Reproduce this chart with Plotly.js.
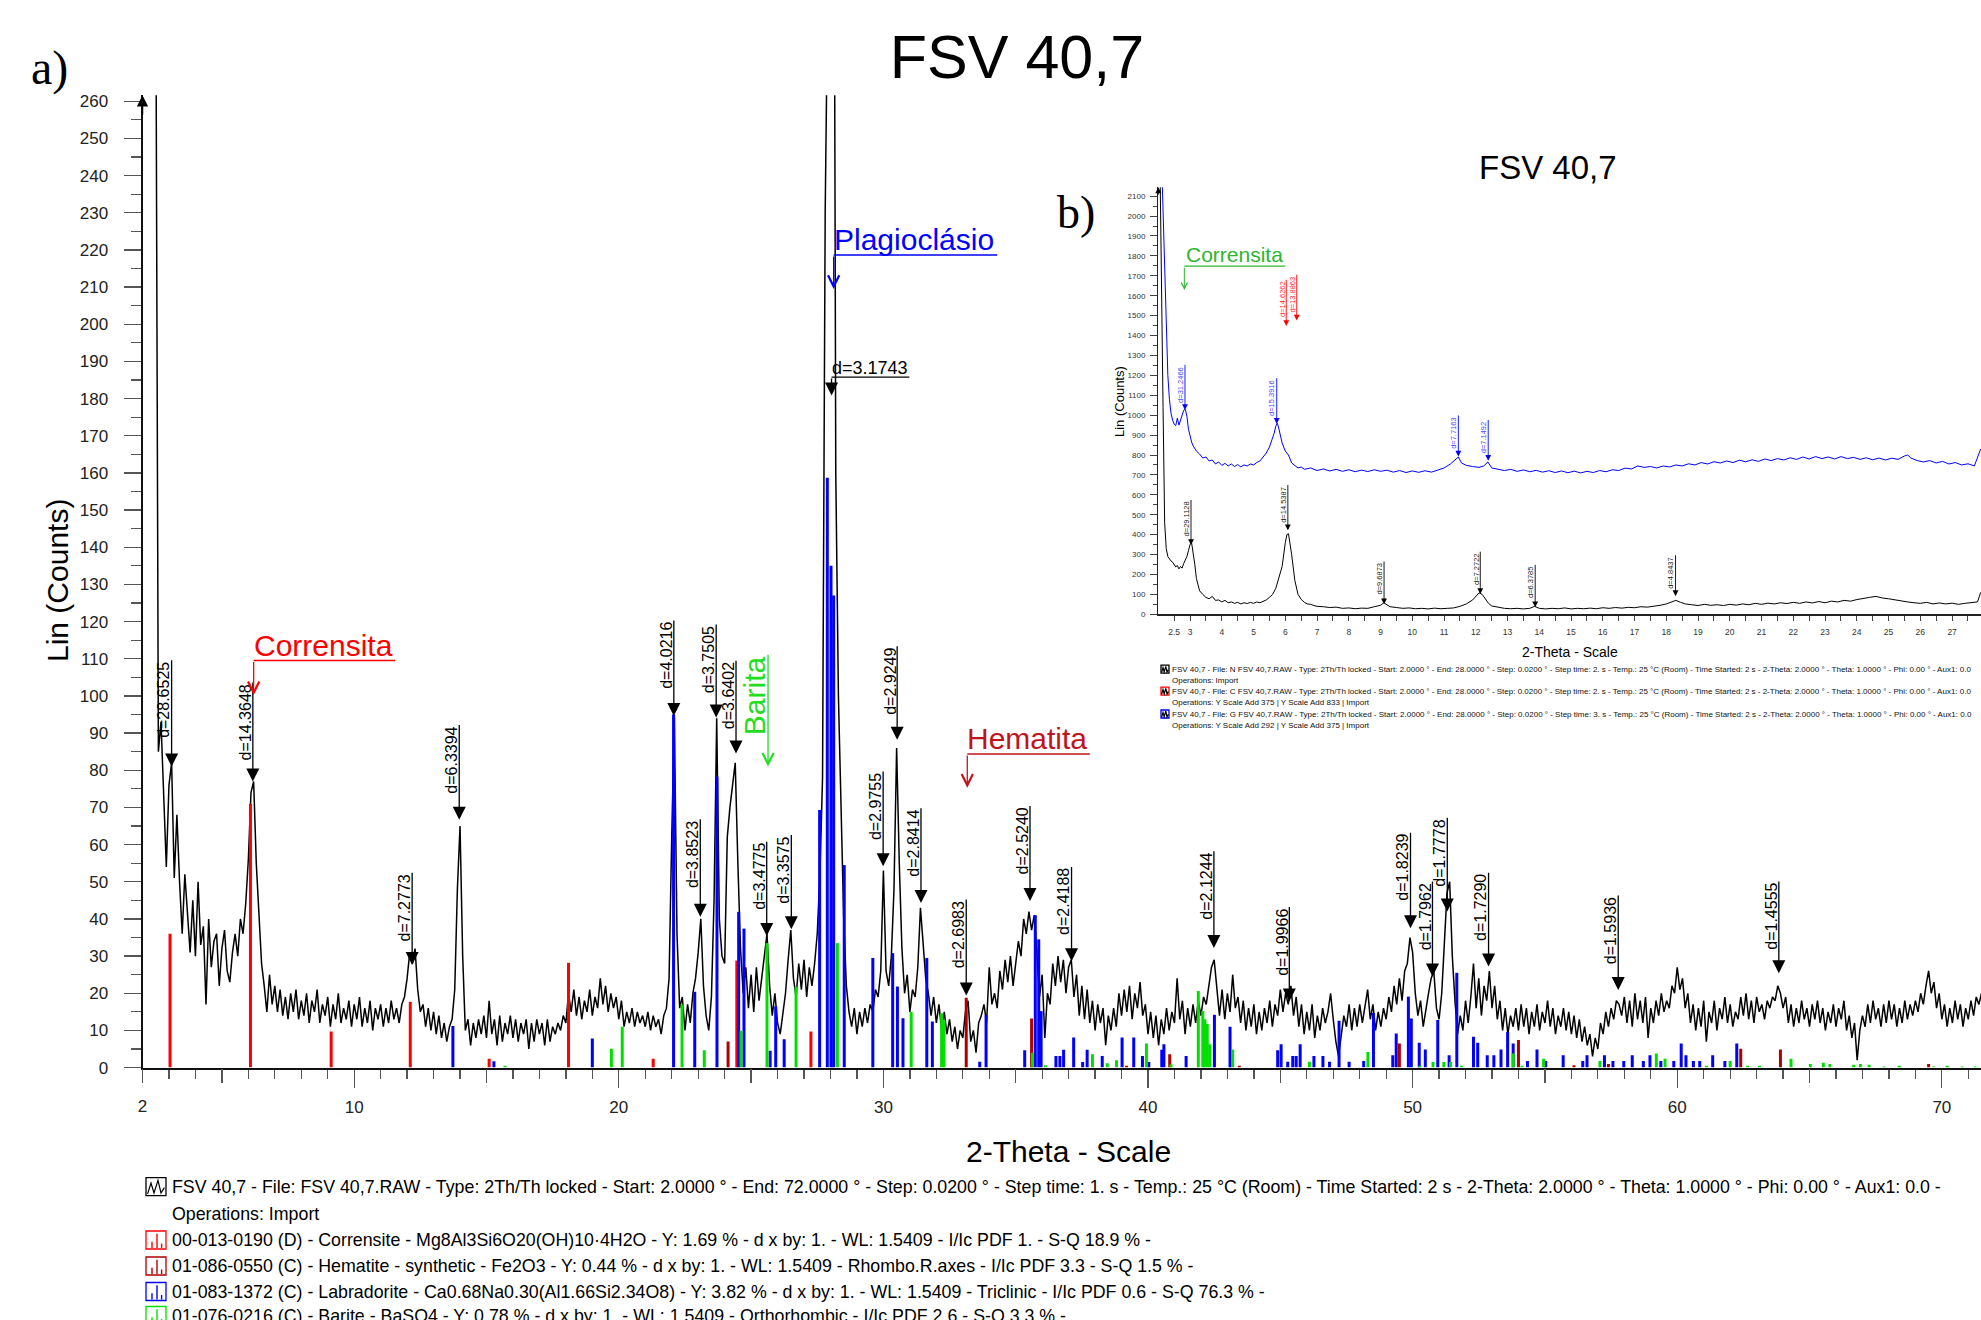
<!DOCTYPE html>
<html><head><meta charset="utf-8">
<script src="https://cdn.plot.ly/plotly-3.0.1.min.js"></script>
<style>html,body{margin:0;padding:0;background:#fff}#chart{width:1981px;height:1320px}</style>
</head><body><div id="chart"></div>
<script>
// ---------------- DATA ----------------
// main diffractogram, scan grid 2.0 .. 71.5 deg 2-theta, 0.1 deg apart
const scanStart = 2.0;
const scanStep = 0.1;
const countsMain = [
420,420,420,420,420,300,85,93,72,54,
76,82,51,68,50,36,52,40,31,45,
30,50,33,38,17,40,27,34,36,22,
32,37,26,23,31,36,30,40,36,44,
56,74,77,55,40,28,22,15,25,17,
22,15,21,14,19,13,20,15,21,13,
18,14,20,12,18,15,21,12,17,14,
19,11,17,13,20,12,16,13,18,11,
17,13,19,11,16,12,18,10,16,13,
17,11,16,12,18,13,16,12,17,19,
24,31,28,32,21,15,17,11,16,10,
15,9,14,8,12,7,11,13,21,48,
65,30,10,13,6,12,8,13,9,14,
8,18,9,13,6,14,7,12,9,14,
8,13,7,12,9,13,5,12,7,13,
9,12,6,13,7,11,9,12,10,14,
12,20,15,21,14,19,13,18,15,21,
14,19,16,24,17,22,15,20,16,19,
13,18,11,15,12,16,11,15,12,14,
11,15,10,14,11,13,9,14,16,24,
62,94,36,16,19,10,17,12,20,24,
31,40,22,14,10,19,45,94,40,30,
28,62,70,76,82,55,32,20,27,16,
25,15,27,18,24,30,36,22,14,20,
12,9,15,20,29,37,24,19,28,21,
29,19,27,22,28,36,52,78,230,420,
380,420,160,100,70,40,22,15,11,16,
9,15,11,16,12,17,15,21,19,26,
53,26,22,30,48,86,55,32,20,25,
15,21,19,27,43,32,24,20,14,19,
12,17,10,15,9,13,7,11,5,10,
8,15,18,7,10,4,12,14,17,12,
27,17,20,16,26,21,29,23,30,22,
28,34,30,40,36,42,37,41,31,19,
25,8,20,17,28,22,30,23,29,20,
27,29,19,25,14,22,13,21,12,18,
10,17,12,16,6,14,10,16,11,20,
14,21,15,22,13,20,16,23,14,17,
9,15,8,14,6,13,9,16,10,15,
12,24,13,18,9,16,11,17,12,18,
14,19,17,22,27,29,22,14,21,13,
20,15,25,16,19,12,18,10,16,11,
17,9,15,10,16,12,18,11,17,14,
21,15,20,17,22,14,19,11,17,9,
15,10,17,8,14,10,16,12,15,20,
13,7,3,9,14,11,17,10,16,11,
17,12,16,21,13,17,10,15,11,16,
13,19,15,22,17,24,18,26,28,35,
31,20,14,18,11,16,20,24,26,16,
13,20,32,47,50,30,18,9,14,10,
18,12,19,28,16,24,14,22,18,26,
16,22,13,18,10,16,9,14,11,16,
10,17,11,16,9,15,11,17,10,15,
12,18,11,16,9,14,11,16,10,15,
9,14,8,13,7,11,6,9,3,8,
5,12,9,15,11,16,13,18,17,14,
19,12,18,11,20,13,18,12,19,8,
16,12,18,14,20,15,18,16,22,20,
27,21,24,16,20,12,17,10,16,11,
18,7,15,12,18,10,16,13,19,12,
17,11,15,13,19,14,20,13,18,12,
19,15,17,13,18,16,19,18,22,20,
16,19,12,17,11,16,12,18,13,16,
11,17,13,18,12,16,10,15,12,17,
11,16,13,18,10,14,8,12,2,10,
14,11,17,12,18,13,16,11,17,12,
18,13,17,11,16,12,18,13,17,14,
18,15,20,17,22,26,20,23,16,20,
13,17,11,16,12,18,13,17,11,16,
13,18,14,19,17,20
];

// reference patterns (stick positions 2-theta and heights in counts)
const corrensiteTheta = [3.04, 6.08, 9.13, 12.12, 15.1, 18.1, 21.3, 24.46, 27.26];
const corrensiteI     = [36, 71, 9.7, 17.7, 2.4, 28.2, 2.4, 28.8, 9.7];

const hematiteTheta = [24.13, 33.13, 35.6, 39.19, 40.82, 43.45, 49.5, 54.0, 56.1, 57.4, 62.4, 63.9, 69.5];
const hematiteI     = [7, 18.8, 13.2, 0.5, 3.6, 0.5, 6.5, 7.4, 0.6, 1.0, 5.1, 4.9, 1.0];

const labradoriteTheta = [13.73, 15.28, 19.0, 22.07, 22.87, 23.71, 24.53, 24.73, 25.72, 25.93, 26.25, 27.59, 27.88, 28.02, 28.12, 28.52,
  29.6, 30.35, 30.53, 30.74, 31.64, 31.85, 33.64, 33.88, 35.34, 35.74, 35.87, 35.96, 36.52, 36.67, 36.81, 37.19, 37.53, 37.7,
  38.27, 39.02, 39.46, 39.79, 40.03, 40.52, 40.6, 41.44, 42.51, 43.1, 44.9, 45.03, 45.28, 45.47, 45.6, 45.75, 46.27, 46.61,
  46.86, 47.22, 47.6, 48.15, 48.52, 49.25, 49.38, 49.84, 49.95, 50.25, 50.48, 50.95, 51.38, 51.67, 52.3, 52.46, 52.82, 53.07,
  53.34, 53.59, 53.8, 54.34, 54.7, 55.03, 55.69, 56.43, 56.59, 57.25, 57.57, 57.98, 58.3, 58.72, 58.97, 59.38, 59.87, 60.15,
  60.33, 60.61, 60.85, 61.34, 61.8, 62.25];
const labradoriteI = [11.2, 1.7, 7.8, 95, 20.4, 78.3, 41.9, 37.4, 4.5, 16.5, 7.6, 69.3, 158.7, 135, 127, 54.5,
  29.5, 30.8, 21.8, 13.3, 29.5, 12.4, 1.6, 14.1, 4.7, 41, 34.5, 15.2, 3.1, 3.1, 4.8, 8.1, 1.5, 4.8,
  3.1, 8.1, 8.1, 3.1, 1.5, 4.8, 6.3, 3.1, 14.2, 11, 4.7, 6.3, 1.6, 3.1, 3.1, 6.3, 3.1, 3.1,
  1.6, 12.6, 1.6, 1.8, 14.7, 3.3, 9.2, 19.1, 13.2, 6.7, 4.9, 12.8, 3.3, 25.5, 8.3, 6.7, 3.3, 3.3,
  4.9, 9.6, 6.5, 1.8, 4.9, 1.8, 3.3, 1.8, 3.3, 3.3, 1.8, 1.8, 3.3, 1.8, 3.3, 1.8, 1.8, 6.5,
  3.3, 1.8, 1.8, 3.3, 1.8, 6.5];

const bariteTheta = [15.7, 19.72, 20.13, 22.39, 23.23, 24.62, 25.6, 26.7, 28.26, 31.05, 32.2, 32.29, 35.63, 36.12, 37.9, 38.46,
  38.81, 39.94, 40.87, 41.9, 42.07, 42.15, 42.24, 42.33, 43.2, 46.1, 48.31, 50.28, 50.77, 51.18, 51.43, 51.84, 53.8, 54.13,
  54.95, 57.08, 59.21, 59.54, 61.1, 62.0, 62.66, 63.11, 64.3, 65.03, 65.52, 65.77, 66.67, 66.92, 67.25, 67.82, 68.39, 69.7,
  70.2, 70.77, 71.26];
const bariteI = [0.5, 5.1, 11.0, 17, 4.7, 9.9, 33.5, 21.8, 33.5, 15, 14.6, 12.8, 4.0, 0.6, 3.6, 1.2,
  2.0, 6.5, 0.9, 20.6, 15.2, 13, 11.7, 6.3, 4.9, 1.6, 4.2, 0.5, 1.5, 1.5, 1.5, 0.5, 3.8, 0.5,
  2.4, 1.8, 3.8, 2.4, 0.5, 1.8, 0.5, 0.5, 2.4, 1.0, 1.3, 1.0, 0.8, 1.0, 0.8, 0.3, 0.5, 0.3,
  0.5, 0.3, 0.3];

// peak labels of the main chart: text, 2-theta, arrow tip and label top (counts)
const dLabelMain = ['d=28.6525','d=14.3648','d=7.2773','d=6.3394','d=4.0216','d=3.8523','d=3.7505','d=3.6402','d=3.4775','d=3.3575',
  'd=2.9755','d=2.9249','d=2.8414','d=2.6983','d=2.5240','d=2.4188','d=2.1244','d=1.9966','d=1.8239','d=1.7962','d=1.7778',
  'd=1.7290','d=1.5936','d=1.4555'];
const dThetaMain = [3.10, 6.17, 12.19, 13.97, 22.08, 23.08, 23.68, 24.43, 25.59, 26.52, 29.99, 30.52, 31.42, 33.13, 35.54, 37.11,
  42.49, 45.34, 49.92, 50.75, 51.31, 52.87, 57.77, 63.84];
const dTipMain = [81, 77, 27.6, 66.7, 94.6, 40.6, 94.2, 84.5, 35.4, 37.2, 54.2, 88.2, 44.3, 19.4, 44.8, 28.6, 32.2, 17.8, 37.5, 24.5,
  42.0, 27.2, 20.9, 25.4];
const dTopMain = [110, 104, 52.8, 92.6, 120.7, 67.2, 119.6, 109.9, 61.2, 63, 80.1, 113.8, 70.2, 45.6, 70.8, 54.4, 58.6, 43.6, 63.6,
  50.5, 67.6, 52.8, 46.7, 50.5];
// strongest peak (labelled horizontally)
const dStrong = {text: 'd=3.1743', theta: 28.04, tip: 180.8, top: 185.8};

// inset b): natural (black) and glycolated (blue) scans
const insetNTheta = [2.05,2.1,2.15,2.2,2.25,2.3,2.35,2.4,2.45,2.5,2.55,2.6,2.65,2.7,2.75,2.8,2.85,2.9,2.95,3.0,3.05,3.1,3.15,3.2,3.25,
  3.3,3.4,3.5,3.6,3.7,3.8,3.9,4.0,4.1,4.2,4.3,4.4,4.5,4.6,4.7,4.8,4.9,5.0,5.1,5.2,5.3,5.4,5.5,5.6,5.7,5.8,5.9,6.0,6.05,6.1,
  6.15,6.2,6.3,6.4,6.5,6.6,6.7,6.8,6.9,7.0,7.2,7.4,7.6,7.8,8.0,8.2,8.4,8.6,8.8,9.0,9.1,9.2,9.3,9.5,9.7,9.9,10.1,10.3,10.5,
  10.7,10.9,11.1,11.3,11.5,11.7,11.9,12.0,12.1,12.2,12.3,12.4,12.5,12.7,12.9,13.1,13.3,13.5,13.7,13.85,14.0,14.2,14.4,14.6,
  14.8,15.0,15.2,15.4,15.6,15.8,16.0,16.2,16.4,16.6,16.8,17.0,17.2,17.4,17.6,17.8,18.0,18.15,18.3,18.45,18.6,18.8,19.0,19.2,
  19.4,19.6,19.8,20.0,20.2,20.4,20.6,20.8,21.0,21.2,21.4,21.6,21.8,22.0,22.2,22.4,22.6,22.8,23.0,23.2,23.4,23.6,23.8,24.0,
  24.2,24.4,24.6,24.8,25.0,25.2,25.4,25.6,25.8,26.0,26.2,26.4,26.6,26.8,27.0,27.2,27.4,27.6,27.8,27.9];
const insetNCounts = [2300,1500,1040,460,330,290,275,268,262,250,238,245,228,240,232,255,270,290,320,350,358,310,250,180,140,
  118,100,85,78,90,70,72,62,70,58,62,55,60,52,58,54,60,55,62,58,66,72,85,100,130,180,240,360,400,405,
  360,300,170,100,75,60,52,50,44,40,38,34,36,30,32,28,31,30,38,45,58,48,38,34,30,32,28,30,27,
  31,28,30,32,40,52,72,92,108,100,75,55,42,35,30,28,30,27,30,40,30,27,30,28,
  32,27,30,28,31,28,33,30,34,31,35,33,38,36,40,45,52,62,70,60,52,48,44,50,
  45,48,44,50,46,52,48,55,50,56,52,58,54,60,55,62,57,64,58,66,62,70,66,74,
  78,85,90,82,78,72,68,62,58,55,60,52,57,52,56,50,55,58,62,110];

const insetGTheta = [2.1,2.2,2.3,2.35,2.4,2.45,2.5,2.55,2.6,2.65,2.7,2.75,2.8,2.85,2.9,2.95,3.0,3.05,3.1,3.2,3.3,3.4,3.5,3.6,3.7,
  3.8,3.9,4.0,4.1,4.2,4.3,4.4,4.5,4.6,4.7,4.8,4.9,5.0,5.1,5.2,5.3,5.4,5.5,5.6,5.65,5.7,5.75,5.8,5.85,5.9,6.0,6.05,6.1,6.2,
  6.3,6.4,6.5,6.6,6.8,7.0,7.2,7.4,7.6,7.8,8.0,8.2,8.4,8.6,8.8,9.0,9.2,9.4,9.6,9.8,10.0,10.2,10.4,10.6,10.8,11.0,11.2,11.35,
  11.45,11.55,11.7,11.9,12.1,12.25,12.38,12.5,12.7,12.9,13.1,13.3,13.5,13.7,13.9,14.1,14.3,14.5,14.7,14.9,15.1,15.3,15.5,
  15.7,15.9,16.1,16.3,16.5,16.7,16.9,17.1,17.3,17.5,17.7,17.9,18.1,18.3,18.5,18.7,18.9,19.1,19.3,19.5,19.7,19.9,20.1,20.3,
  20.5,20.7,20.9,21.1,21.3,21.5,21.7,21.9,22.1,22.3,22.5,22.7,22.9,23.1,23.3,23.5,23.7,23.9,24.1,24.3,24.5,24.7,24.9,25.1,
  25.3,25.5,25.6,25.7,25.9,26.1,26.3,26.5,26.7,26.9,27.1,27.3,27.5,27.7,27.8,27.9];
const insetGCounts = [2300,1700,1200,1080,1010,975,955,948,985,950,975,995,1025,1030,995,930,890,865,845,820,805,785,790,770,775,
  755,765,748,758,745,755,742,752,740,750,745,755,750,762,770,790,810,840,880,910,945,960,930,895,860,820,810,800,760,
  745,735,740,728,735,722,730,720,728,718,726,716,724,717,726,718,724,714,722,712,720,713,721,714,724,735,755,775,
  790,760,748,742,738,745,765,735,728,722,728,718,725,716,723,714,721,712,720,711,719,710,718,
  712,722,716,726,722,734,730,745,738,742,735,745,740,750,745,756,750,762,755,766,760,770,762,774,
  766,776,768,780,772,782,775,786,778,790,780,792,782,790,780,792,782,788,778,786,776,785,775,784,
  778,795,800,785,772,765,772,760,768,755,762,750,756,745,790,830];

// inset peak labels: text, 2-theta, arrow tip, label top (counts)
const dLabelInsetN = ['d=29.1128','d=14.5387','d=9.6873','d=7.2722','d=6.3785','d=4.8437'];
const dThetaInsetN = [3.03, 6.08, 9.11, 12.14, 13.87, 18.29];
const dTipInsetN   = [348, 422, 50, 102, 35, 91];
const dTopInsetN   = [582, 657, 273, 322, 256, 304];
const dLabelInsetG = ['d=31.2466','d=15.3916','d=7.7163','d=7.1492'];
const dThetaInsetG = [2.84, 5.73, 11.45, 12.39];
const dTipInsetG   = [1026, 956, 792, 771];
const dTopInsetG   = [1260, 1193, 1006, 983];
const dLabelInsetC = ['d=14.6262','d=13.8863'];
const dThetaInsetC = [6.03, 6.36];
const dTipInsetC   = [1448, 1475];
const dTopInsetC   = [1688, 1713];

const insetXLabels = ['2.5','3','4','5','6','7','8','9','10','11','12','13','14','15','16','17','18','19','20','21','22','23','24','25','26','27'];

const legendMain = [
  'FSV 40,7 - File: FSV 40,7.RAW - Type: 2Th/Th locked - Start: 2.0000 ° - End: 72.0000 ° - Step: 0.0200 ° - Step time: 1. s - Temp.: 25 °C (Room) - Time Started: 2 s - 2-Theta: 2.0000 ° - Theta: 1.0000 ° - Phi: 0.00 ° - Aux1: 0.0 -',
  'Operations: Import',
  '00-013-0190 (D) - Corrensite - Mg8Al3Si6O20(OH)10·4H2O - Y: 1.69 % - d x by: 1. - WL: 1.5409 - I/Ic PDF 1. - S-Q 18.9 % -',
  '01-086-0550 (C) - Hematite - synthetic - Fe2O3 - Y: 0.44 % - d x by: 1. - WL: 1.5409 - Rhombo.R.axes - I/Ic PDF 3.3 - S-Q 1.5 % -',
  '01-083-1372 (C) - Labradorite - Ca0.68Na0.30(Al1.66Si2.34O8) - Y: 3.82 % - d x by: 1. - WL: 1.5409 - Triclinic - I/Ic PDF 0.6 - S-Q 76.3 % -',
  '01-076-0216 (C) - Barite - BaSO4 - Y: 0.78 % - d x by: 1. - WL: 1.5409 - Orthorhombic - I/Ic PDF 2.6 - S-Q 3.3 % -'
];
const legendInset = [
  'FSV 40,7 - File: N FSV 40,7.RAW - Type: 2Th/Th locked - Start: 2.0000 ° - End: 28.0000 ° - Step: 0.0200 ° - Step time: 2. s - Temp.: 25 °C (Room) - Time Started: 2 s - 2-Theta: 2.0000 ° - Theta: 1.0000 ° - Phi: 0.00 ° - Aux1: 0.0',
  'Operations: Import',
  'FSV 40,7 - File: C FSV 40,7.RAW - Type: 2Th/Th locked - Start: 2.0000 ° - End: 28.0000 ° - Step: 0.0200 ° - Step time: 2. s - Temp.: 25 °C (Room) - Time Started: 2 s - 2-Theta: 2.0000 ° - Theta: 1.0000 ° - Phi: 0.00 ° - Aux1: 0.0',
  'Operations: Y Scale Add 375 | Y Scale Add 833 | Import',
  'FSV 40,7 - File: G FSV 40,7.RAW - Type: 2Th/Th locked - Start: 2.0000 ° - End: 28.0000 ° - Step: 0.0200 ° - Step time: 3. s - Temp.: 25 °C (Room) - Time Started: 2 s - 2-Theta: 2.0000 ° - Theta: 1.0000 ° - Phi: 0.00 ° - Aux1: 0.0',
  'Operations: Y Scale Add 292 | Y Scale Add 375 | Import'
];

// ---------------- DRAWING ----------------
const W = 1981, H = 1320;
const px = v => v / W;
const py = v => 1 - v / H;
const FONT = 'Liberation Sans, Arial, Helvetica, sans-serif';
const SERIF = 'Liberation Serif, Times New Roman, serif';

const thetaMain = countsMain.map((_, i) => +(scanStart + i * scanStep).toFixed(2));

function sticks(theta, inten) {
  const x = [], y = [];
  theta.forEach((t, i) => { x.push(t, t, null); y.push(0, inten[i], null); });
  return {x, y};
}
function stickTrace(theta, inten, color) {
  const s = sticks(theta, inten);
  return {type: 'scatter', mode: 'lines', x: s.x, y: s.y, xaxis: 'x', yaxis: 'y',
    line: {color: color, width: 3}, hoverinfo: 'skip', connectgaps: false};
}

const traces = [
  {type: 'scatter', mode: 'lines', x: thetaMain, y: countsMain, xaxis: 'x', yaxis: 'y',
   line: {color: '#000', width: 1.5}, hoverinfo: 'skip'},
  stickTrace(corrensiteTheta, corrensiteI, '#ff0000'),
  stickTrace(hematiteTheta, hematiteI, '#b00000'),
  stickTrace(labradoriteTheta, labradoriteI, '#0000ff'),
  stickTrace(bariteTheta, bariteI, '#00e000'),
  {type: 'scatter', mode: 'markers', x: [2], y: [0], xaxis: 'x2', yaxis: 'y',
   marker: {opacity: 0}, hoverinfo: 'skip'},
  {type: 'scatter', mode: 'lines', x: insetNTheta, y: insetNCounts, xaxis: 'x3', yaxis: 'y3',
   line: {color: '#000', width: 1}, hoverinfo: 'skip'},
  {type: 'scatter', mode: 'lines', x: insetGTheta, y: insetGCounts, xaxis: 'x3', yaxis: 'y3',
   line: {color: '#0000ff', width: 1}, hoverinfo: 'skip'}
];

const ann = [];
const shapes = [];

function arrow(xr, yr, x, tip, top, color, w, size, head) {
  ann.push({xref: xr, yref: yr, axref: xr, ayref: yr, x: x, y: tip, ax: x, ay: top, text: '',
    showarrow: true, arrowhead: head, arrowsize: size, arrowwidth: w, arrowcolor: color, standoff: 0, startstandoff: 0});
}
function vtext(xr, yr, x, top, text, size, color, xs) {
  ann.push({xref: xr, yref: yr, x: x, y: top, text: text, showarrow: false, textangle: -90,
    xanchor: 'right', yanchor: 'top', xshift: xs, yshift: -1, font: {family: FONT, size: size, color: color}});
}
function hline(xr, yr, x0, x1, y, color, w) {
  shapes.push({type: 'line', xref: xr, yref: yr, x0: x0, x1: x1, y0: y, y1: y, line: {color: color, width: w}});
}

// main peak labels
dLabelMain.forEach((t, i) => {
  arrow('x', 'y', dThetaMain[i], dTipMain[i], dTopMain[i], '#000', 1.3, 2, 2);
  vtext('x', 'y', dThetaMain[i], dTopMain[i], t, 16, '#000', 3);
});
arrow('x', 'y', dStrong.theta, dStrong.tip, dStrong.top, '#000', 1.3, 2, 2);
ann.push({xref: 'x', yref: 'y', x: dStrong.theta, y: dStrong.top, text: dStrong.text, showarrow: false,
  xanchor: 'left', yanchor: 'bottom', xshift: -2, yshift: -3, font: {family: FONT, size: 18, color: '#000'}});
hline('x', 'y', dStrong.theta, 30.98, dStrong.top, '#000', 1.3);

// phase call-outs on the main chart
function callout(text, color, x, yLine, xEnd, yTip) {
  ann.push({xref: 'x', yref: 'y', x: x, y: yLine, text: text, showarrow: false, xanchor: 'left', yanchor: 'bottom',
    xshift: -2, yshift: -3, font: {family: FONT, size: 30, color: color}});
  hline('x', 'y', x, xEnd, yLine, color, 1.5);
  arrow('x', 'y', x, yTip, yLine, color, 1.3, 1.7, 5);
}
callout('Corrensita', '#ff0000', 6.2, 109.5, 11.55, 100.2);
callout('Plagioclásio', '#0000ff', 28.12, 218.6, 34.3, 209.5);
callout('Hematita', '#c0141c', 33.17, 84.4, 37.8, 75.3);
// Barita (vertical call-out)
vtext('x', 'y', 25.64, 111.5, 'Barita', 30, '#22dd22', 5);
arrow('x', 'y', 25.64, 81, 111.5, '#22dd22', 1.3, 1.7, 5);

// y axis arrow tips
arrow('x', 'y', 2, 261.6, 256, '#000', 1.5, 1.5, 2);
arrow('x3', 'y3', 2, 2145, 2100, '#000', 1, 1.2, 2);

// inset labels
function insetLabels(lbl, th, tip, top, lineColor, textColor) {
  lbl.forEach((t, i) => {
    arrow('x3', 'y3', th[i], tip[i], top[i], lineColor, 0.9, 1.3, 2);
    vtext('x3', 'y3', th[i], top[i], t, 7.5, textColor, 2);
  });
}
insetLabels(dLabelInsetN, dThetaInsetN, dTipInsetN, dTopInsetN, '#000', '#222');
insetLabels(dLabelInsetG, dThetaInsetG, dTipInsetG, dTopInsetG, '#0000ff', '#4a4aff');
insetLabels(dLabelInsetC, dThetaInsetC, dTipInsetC, dTopInsetC, '#ff0000', '#ff2a2a');
ann.push({xref: 'x3', yref: 'y3', x: 2.84, y: 1749, text: 'Corrensita', showarrow: false, xanchor: 'left', yanchor: 'bottom',
  xshift: -1, yshift: -2, font: {family: FONT, size: 21, color: '#2db52d'}});
hline('x3', 'y3', 2.82, 6.0, 1749, '#2db52d', 1.2);
arrow('x3', 'y3', 2.82, 1629, 1749, '#2db52d', 1, 1.2, 5);

// free texts
function ptext(text, x, y, size, opts) {
  ann.push(Object.assign({xref: 'paper', yref: 'paper', x: px(x), y: py(y), text: text, showarrow: false,
    xanchor: 'center', yanchor: 'middle', font: {family: FONT, size: size, color: '#000'}}, opts || {}));
}
ptext('a)', 49, 68, 48, {font: {family: SERIF, size: 48, color: '#000'}});
ptext('b)', 1076, 212, 46, {font: {family: SERIF, size: 46, color: '#000'}});
ptext('Lin (Counts)', 57, 581, 30, {textangle: -90});
ptext('2-Theta - Scale', 1068, 1151, 30);
ptext('FSV 40,7', 1548, 168, 33);
ptext('Lin (Counts)', 1119, 402, 13, {textangle: -90});
ptext('2-Theta - Scale', 1570, 652, 14);

const legRowsMain = [1186.7, 1214, 1240, 1266, 1291.5, 1315.5];
legendMain.forEach((t, i) => ptext(t, 170, legRowsMain[i], 17.8, {xanchor: 'left', font: {family: FONT, size: 17.8, color: '#000'}}));
const legRowsInset = [669.2, 680.2, 691.2, 702.8, 714, 725.6];
legendInset.forEach((t, i) => ptext(t, 1170, legRowsInset[i], 8, {xanchor: 'left', font: {family: FONT, size: 8, color: '#111'}}));

// legend icons
function icon(x0, yc, w, h, color, kind) {
  const X = f => px(x0 + f * w), Y = f => py(yc - h / 2 + f * h);
  shapes.push({type: 'rect', xref: 'paper', yref: 'paper', x0: X(0), x1: X(1), y0: Y(0), y1: Y(1),
    line: {color: color, width: 1.3}, fillcolor: 'rgba(0,0,0,0)'});
  let p;
  if (kind === 'trace') {
    p = `M${X(0.08)},${Y(0.9)} L${X(0.25)},${Y(0.3)} L${X(0.4)},${Y(0.85)} L${X(0.6)},${Y(0.15)} L${X(0.75)},${Y(0.85)} L${X(0.92)},${Y(0.55)}`;
    shapes.push({type: 'path', xref: 'paper', yref: 'paper', path: p, line: {color: '#000', width: 1.2}});
  } else {
    p = `M${X(0.3)},${Y(0.95)} L${X(0.3)},${Y(0.6)} M${X(0.55)},${Y(0.95)} L${X(0.55)},${Y(0.15)} M${X(0.78)},${Y(0.95)} L${X(0.78)},${Y(0.7)}`;
    shapes.push({type: 'path', xref: 'paper', yref: 'paper', path: p, line: {color: color, width: 1.4}});
  }
}
icon(146, legRowsMain[0], 20, 18, '#000', 'trace');
icon(146, legRowsMain[2], 20, 18, '#ff0000', 'sticks');
icon(146, legRowsMain[3], 20, 18, '#b00000', 'sticks');
icon(146, legRowsMain[4], 20, 18, '#0000ff', 'sticks');
icon(146, legRowsMain[5], 20, 18, '#00e000', 'sticks');
icon(1161, legRowsInset[0], 8, 8, '#000', 'trace');
icon(1161, legRowsInset[2], 8, 8, '#ff0000', 'trace');
icon(1161, legRowsInset[4], 8, 8, '#0000ff', 'trace');

// inset x tick values every 0.5
const insetTickVals = [], insetTickText = [];
for (let v = 2.5; v <= 27.51; v += 0.5) {
  insetTickVals.push(+v.toFixed(1));
  const k = insetXLabels.indexOf(String(+v.toFixed(1)));
  insetTickText.push(k >= 0 ? insetXLabels[k] : '');
}

const layout = {
  width: W, height: H,
  margin: {l: 0, r: 0, t: 0, b: 0, pad: 0},
  paper_bgcolor: '#fff', plot_bgcolor: 'rgba(0,0,0,0)',
  showlegend: false,
  font: {family: FONT, color: '#000'},
  title: {text: 'FSV 40,7', xref: 'container', yref: 'container', x: px(1017), y: py(57),
    xanchor: 'center', yanchor: 'middle', font: {family: FONT, size: 61, color: '#000'}},
  xaxis: {domain: [px(142.5), 1], range: [2, 71.48], anchor: 'y',
    tickmode: 'linear', tick0: 0, dtick: 10, ticks: 'outside', ticklen: 18, tickwidth: 1.3, tickcolor: '#555',
    minor: {tickmode: 'linear', tick0: 0, dtick: 1, ticks: 'outside', ticklen: 9, tickwidth: 1.3, tickcolor: '#555'},
    showline: true, linecolor: '#111', linewidth: 2, showgrid: false, zeroline: false,
    tickfont: {family: FONT, size: 17, color: '#222'}, ticklabelstandoff: 5},
  xaxis2: {overlaying: 'x', anchor: 'y', range: [2, 71.48], tickmode: 'array',
    tickvals: [2, 5, 15, 25, 35, 45, 55, 65], ticktext: ['2', '', '', '', '', '', '', ''],
    ticks: 'outside', ticklen: 14, tickwidth: 1.3, tickcolor: '#555', showline: false, showgrid: false, zeroline: false,
    tickfont: {family: FONT, size: 17, color: '#222'}, ticklabelstandoff: 9},
  yaxis: {domain: [py(1067.6), py(95.3)], range: [0, 261.6], anchor: 'x',
    tickmode: 'linear', tick0: 0, dtick: 10, ticks: 'outside', ticklen: 17, tickwidth: 1.3, tickcolor: '#555',
    minor: {tickmode: 'linear', tick0: 0, dtick: 5, ticks: 'outside', ticklen: 10, tickwidth: 1.3, tickcolor: '#555'},
    showline: true, linecolor: '#111', linewidth: 2, showgrid: false, zeroline: false,
    tickfont: {family: FONT, size: 17, color: '#222'}, ticklabelstandoff: 12},
  xaxis3: {domain: [px(1158.3), 1], range: [2, 27.91], anchor: 'y3',
    tickmode: 'array', tickvals: insetTickVals, ticktext: insetTickText,
    ticks: 'outside', ticklen: 5, tickwidth: 1, tickcolor: '#444',
    showline: true, linecolor: '#222', linewidth: 1.3, showgrid: false, zeroline: false,
    tickfont: {family: FONT, size: 8.5, color: '#333'}, ticklabelstandoff: 4},
  yaxis3: {domain: [py(614.3), py(187.2)], range: [0, 2145], anchor: 'x3',
    tickmode: 'linear', tick0: 0, dtick: 100, ticks: 'outside', ticklen: 7, tickwidth: 1, tickcolor: '#444',
    minor: {tickmode: 'linear', tick0: 0, dtick: 50, ticks: 'outside', ticklen: 4, tickwidth: 1, tickcolor: '#444'},
    showline: true, linecolor: '#222', linewidth: 1.3, showgrid: false, zeroline: false,
    tickfont: {family: FONT, size: 8, color: '#333'}, ticklabelstandoff: 3},
  annotations: ann,
  shapes: shapes
};

Plotly.newPlot('chart', traces, layout, {staticPlot: true, displayModeBar: false});
</script>
</body></html>
